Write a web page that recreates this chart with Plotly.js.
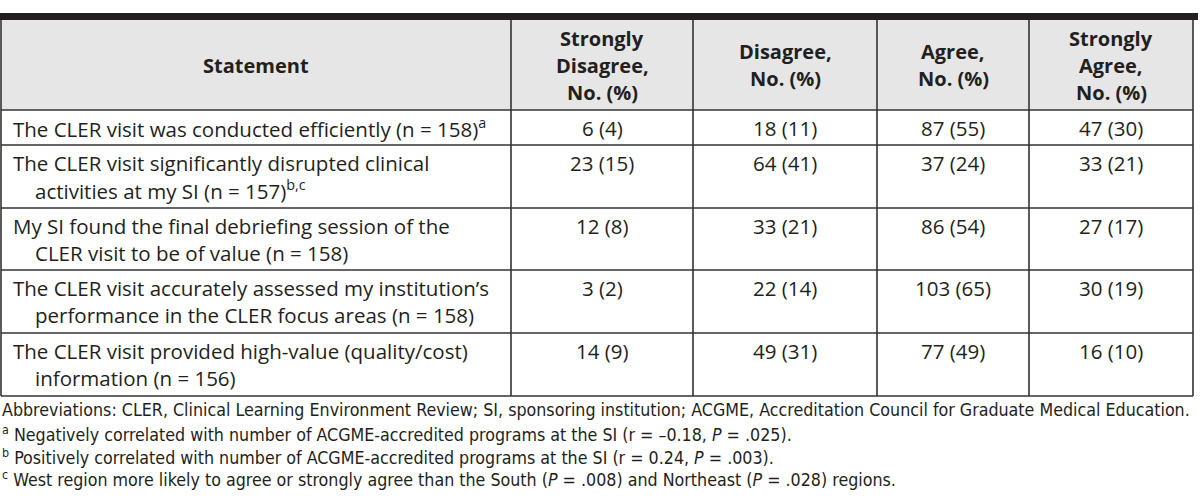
<!DOCTYPE html>
<html><head><meta charset="utf-8">
<script src="https://cdn.plot.ly/plotly-3.0.1.min.js"></script>
<style>html,body{margin:0;padding:0;background:#fff}#chart{width:1200px;height:503px}</style>
</head><body><div id="chart"></div>
<script>
// ---- data ----
const headers = ["Statement", "Strongly<br>Disagree,<br>No. (%)", "Disagree,<br>No. (%)", "Agree,<br>No. (%)", "Strongly<br>Agree,<br>No. (%)"];
const statements = [
  "The CLER visit was conducted efficiently (n = 158)<sup>a</sup>",
  "The CLER visit significantly disrupted clinical<br>activities at my SI (n = 157)<sup>b,c</sup>",
  "My SI found the final debriefing session of the<br>CLER visit to be of value (n = 158)",
  "The CLER visit accurately assessed my institution’s<br>performance in the CLER focus areas (n = 158)",
  "The CLER visit provided high-value (quality/cost)<br>information (n = 156)"
];
const stronglyDisagree = ["6 (4)", "23 (15)", "12 (8)", "3 (2)", "14 (9)"];
const disagree = ["18 (11)", "64 (41)", "33 (21)", "22 (14)", "49 (31)"];
const agree = ["87 (55)", "37 (24)", "86 (54)", "103 (65)", "77 (49)"];
const stronglyAgree = ["47 (30)", "33 (21)", "27 (17)", "30 (19)", "16 (10)"];
const footnotes = [
  "Abbreviations: CLER, Clinical Learning Environment Review; SI, sponsoring institution; ACGME, Accreditation Council for Graduate Medical Education.",
  "<sup>a</sup> Negatively correlated with number of ACGME-accredited programs at the SI (r = –0.18, <i>P</i> = .025).",
  "<sup>b</sup> Positively correlated with number of ACGME-accredited programs at the SI (r = 0.24, <i>P</i> = .003).",
  "<sup>c</sup> West region more likely to agree or strongly agree than the South (<i>P</i> = .008) and Northeast (<i>P</i> = .028) regions."
];

// ---- layout geometry ----
const colEdges = [1, 511, 693, 877, 1029, 1193];
const rowEdges = [20, 110, 145, 208, 270, 333, 396];
const lineH = 27;
const FONT = "'Open Sans', 'Noto Sans', sans-serif";
const FS = 20.5;
const HFS = 20;
const TXT = "#231f20";
const lineColor = "#333";

const shapes = [];
const annotations = [];
// top thick bar
shapes.push({type:"rect", xref:"x", yref:"y", x0:0, x1:1198, y0:13, y1:20, fillcolor:"#231f20", line:{width:0}});
// header fill
shapes.push({type:"rect", xref:"x", yref:"y", x0:colEdges[0], x1:colEdges[5], y0:rowEdges[0], y1:rowEdges[1], fillcolor:"#e6e6e6", line:{width:0}, layer:"below"});
// horizontal lines
rowEdges.slice(1).forEach(y => shapes.push({type:"line", xref:"x", yref:"y", x0:colEdges[0], x1:colEdges[5], y0:y, y1:y, line:{color:lineColor, width:1.6}}));
// vertical lines
colEdges.forEach(x => shapes.push({type:"line", xref:"x", yref:"y", x0:x, x1:x, y0:rowEdges[0], y1:rowEdges[6], line:{color:lineColor, width:1.6}}));

// header text
headers.forEach((h, i) => {
  const lines = h.split("<br>");
  const cx = (colEdges[i] + colEdges[i+1]) / 2;
  const cy = (rowEdges[0] + rowEdges[1]) / 2;
  lines.forEach((t, k) => {
    const y = cy + (k - (lines.length - 1) / 2) * lineH;
    annotations.push({x:cx, y:y, xref:"x", yref:"y", text:"<b>"+t+"</b>", showarrow:false, xanchor:"center", yanchor:"middle", font:{family:FONT, size:HFS, color:TXT}});
  });
});

// body
const numCols = [stronglyDisagree, disagree, agree, stronglyAgree];
statements.forEach((s, r) => {
  const lines = s.split("<br>");
  const top = rowEdges[r+1];
  const bottom = rowEdges[r+2];
  const nL = lines.length;
  const firstY = (top + bottom) / 2 - (nL - 1) / 2 * lineH;
  lines.forEach((t, k) => {
    annotations.push({x: k === 0 ? 11 : 33, y: firstY + k * lineH, xref:"x", yref:"y", text:t, showarrow:false, xanchor:"left", yanchor:"middle", font:{family:FONT, size:FS, color:TXT}});
  });
  numCols.forEach((arr, c) => {
    annotations.push({x:(colEdges[c+1] + colEdges[c+2]) / 2, y:firstY, xref:"x", yref:"y", text:arr[r], showarrow:false, xanchor:"center", yanchor:"middle", font:{family:FONT, size:FS, color:TXT}});
  });
});

// footnotes
const footY = [410, 433, 456, 478];
footnotes.forEach((f, i) => {
  annotations.push({x:0, y:footY[i], xref:"x", yref:"y", text:f, showarrow:false, xanchor:"left", yanchor:"middle", font:{family:"'DejaVu Sans Condensed', 'Liberation Sans Narrow', sans-serif", size:17.7, color:TXT}});
});

const layout = {
  width:1200, height:503,
  margin:{l:0, r:0, t:0, b:0},
  paper_bgcolor:"#fff", plot_bgcolor:"#fff",
  xaxis:{range:[0,1200], visible:false, fixedrange:true},
  yaxis:{range:[503,0], visible:false, fixedrange:true},
  shapes:shapes, annotations:annotations, showlegend:false
};
Plotly.newPlot("chart", [], layout, {staticPlot:true});
</script></body></html>
